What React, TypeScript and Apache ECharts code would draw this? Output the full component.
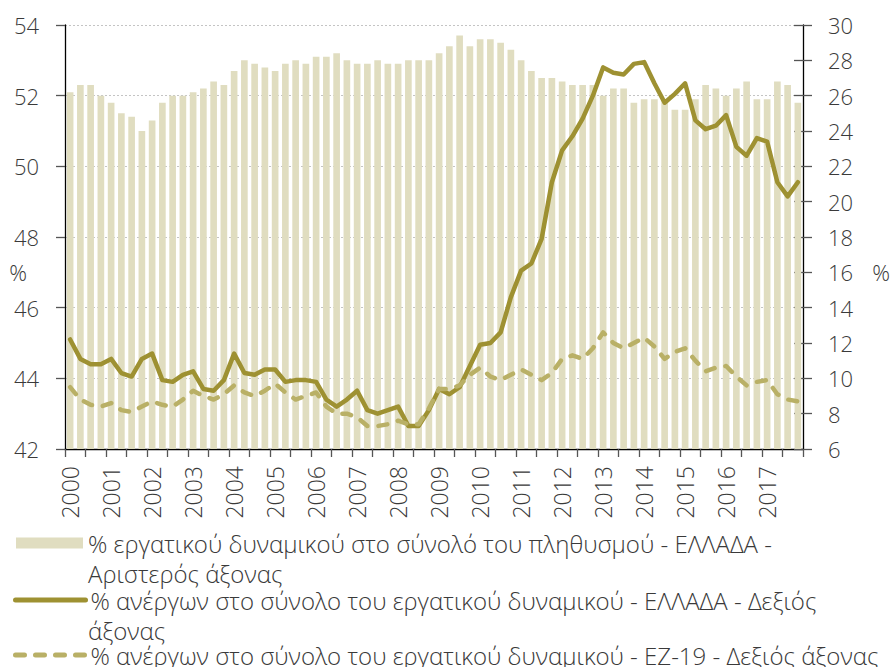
import React, { useEffect, useRef } from "react";
import * as echarts from "echarts";

// ---- data ----
const years = [
  "2000", "2001", "2002", "2003", "2004", "2005", "2006", "2007", "2008",
  "2009", "2010", "2011", "2012", "2013", "2014", "2015", "2016", "2017",
];
const quarters = ["Q1", "Q2", "Q3", "Q4"];

// % labour force in total population - Greece (left axis)
const labourForceGR = [
  52.1, 52.3, 52.3, 52.0, 51.8, 51.5, 51.4, 51.0, 51.3, 51.8, 52.0, 52.0,
  52.1, 52.2, 52.4, 52.3, 52.7, 53.0, 52.9, 52.8, 52.7, 52.9, 53.0, 52.9,
  53.1, 53.1, 53.2, 53.0, 52.9, 52.9, 53.0, 52.9, 52.9, 53.0, 53.0, 53.0,
  53.2, 53.4, 53.7, 53.4, 53.6, 53.6, 53.5, 53.3, 53.0, 52.7, 52.5, 52.5,
  52.4, 52.3, 52.3, 52.3, 52.0, 52.2, 52.2, 51.8, 51.9, 51.9, 51.9, 51.6,
  51.6, 51.9, 52.3, 52.2, 52.0, 52.2, 52.4, 51.9, 51.9, 52.4, 52.3, 51.8,
];

// % unemployed in labour force - Greece (right axis)
const unemploymentGR = [
  12.2, 11.1, 10.8, 10.8, 11.1, 10.3, 10.1, 11.1, 11.4, 9.9, 9.8, 10.2,
  10.4, 9.4, 9.3, 9.9, 11.4, 10.3, 10.2, 10.5, 10.5, 9.8, 9.9, 9.9,
  9.8, 8.8, 8.4, 8.8, 9.3, 8.2, 8.0, 8.2, 8.4, 7.3, 7.3, 8.2,
  9.4, 9.1, 9.5, 10.7, 11.9, 12.0, 12.6, 14.6, 16.1, 16.5, 17.9, 21.1,
  22.9, 23.7, 24.7, 26.0, 27.6, 27.3, 27.2, 27.8, 27.9, 26.7, 25.6, 26.1,
  26.7, 24.6, 24.1, 24.3, 24.9, 23.1, 22.6, 23.6, 23.4, 21.1, 20.3, 21.1,
];

// % unemployed in labour force - EZ-19 (right axis)
const unemploymentEZ19 = [
  9.5, 8.8, 8.5, 8.4, 8.6, 8.2, 8.1, 8.4, 8.7, 8.5, 8.4, 8.8,
  9.3, 9.0, 8.8, 9.1, 9.6, 9.2, 9.0, 9.3, 9.7, 9.2, 8.8, 9.0,
  9.2, 8.4, 8.0, 8.0, 7.8, 7.3, 7.3, 7.4, 7.6, 7.4, 7.4, 8.3,
  9.4, 9.4, 9.6, 10.2, 10.6, 10.1, 9.9, 10.2, 10.5, 10.2, 9.9, 10.3,
  11.1, 11.3, 11.1, 11.7, 12.6, 12.0, 11.7, 12.0, 12.3, 11.8, 11.1, 11.5,
  11.7, 11.0, 10.4, 10.6, 10.7, 10.1, 9.6, 9.8, 9.9, 9.1, 8.8, 8.7,
];

const leftAxisRange = { min: 42, max: 54, interval: 2 };
const rightAxisRange = { min: 6, max: 30, interval: 2 };

const legendLines: string[][] = [
  ["% εργατικού δυναμικού στο σύνολό του πληθυσμού - ΕΛΛΑΔΑ -", "Αριστερός άξονας"],
  ["% ανέργων στο σύνολο του εργατικού δυναμικού - ΕΛΛΑΔΑ - Δεξιός", "άξονας"],
  ["% ανέργων στο σύνολο του εργατικού δυναμικού - ΕΖ-19 - Δεξιός άξονας"],
];
const seriesNames = legendLines.map((l) => l.join(" "));

const categories = years.flatMap((y) => quarters.map((q) => `${y} ${q}`));

// ---- style ----
const FONT = "'Open Sans', 'Noto Sans', sans-serif";
const TEXT = "#3a3a3a";
const BAR = "#e0ddc0";
const LINE_GR = "#9e9132";
const LINE_EZ = "#b9b066";
const LEG_FS = 24;
const LEG_LH = 22;
const LEG_ROWS = [542, 599, 654]; // icon/first-line centres
const LEG_SECOND = [573, 630]; // wrapped second lines

export default function App() {
  const ref = useRef<HTMLDivElement>(null);

  useEffect(() => {
    if (!ref.current) return;
    const chart = echarts.init(ref.current, undefined, { renderer: "svg" });

    const formatter = (name: string) => {
      const i = seriesNames.indexOf(name);
      return i >= 0 ? legendLines[i][0] : name;
    };
    const legendText = {
      fontFamily: FONT,
      fontWeight: 300,
      fontSize: LEG_FS,
      lineHeight: LEG_LH,
      color: TEXT,
    };
    const axisLabelStyle = {
      fontFamily: FONT,
      fontWeight: 300,
      fontSize: 22,
      color: TEXT,
    };

    const lineLegend = (i: number, color: string, dash: any) => ({
      orient: "vertical",
      left: 13,
      top: LEG_ROWS[i] - LEG_LH / 2,
      padding: 0,
      itemGap: 0,
      itemWidth: 70,
      itemHeight: 1,
      selectedMode: false,
      formatter,
      data: [{ name: seriesNames[i] }],
      itemStyle: { opacity: 0 },
      lineStyle: { color, width: 5, type: dash, cap: "round" },
      textStyle: legendText,
    });

    const secondLine = (i: number) => ({
      type: "text",
      x: 88,
      y: LEG_SECOND[i],
      style: {
        text: legendLines[i][1],
        align: "left",
        verticalAlign: "middle",
        fontFamily: FONT,
        fontWeight: 300,
        fontSize: LEG_FS,
        lineHeight: LEG_LH,
        fill: TEXT,
      },
    });

    const pct = (x: number) => ({
      type: "text",
      x,
      y: 272,
      style: {
        text: "%",
        align: "center",
        verticalAlign: "middle",
        fontFamily: FONT,
        fontWeight: 300,
        fontSize: 22,
        fill: TEXT,
      },
    });

    chart.setOption({
      animation: false,
      backgroundColor: "#ffffff",
      grid: { left: 65, right: 87, top: 25, bottom: 218, containLabel: false },
      legend: [
        {
          orient: "vertical",
          left: 16,
          top: LEG_ROWS[0] - LEG_LH / 2,
          padding: 0,
          itemGap: 0,
          itemWidth: 67,
          itemHeight: 11,
          selectedMode: false,
          formatter,
          data: [{ name: seriesNames[0], icon: "rect" }],
          textStyle: legendText,
        },
        lineLegend(1, LINE_GR, "solid"),
        lineLegend(2, LINE_EZ, [9, 11]),
      ],
      xAxis: {
        type: "category",
        data: categories,
        boundaryGap: true,
        axisLine: { show: true, lineStyle: { color: "#000", width: 1.3 } },
        axisTick: {
          show: true,
          interval: 1,
          length: 8,
          lineStyle: { color: "#555", width: 1.3 },
        },
        axisLabel: {
          interval: 3,
          rotate: 90,
          margin: 17,
          formatter: (v: string) => v.slice(0, 4),
          ...axisLabelStyle,
          fontSize: 23,
        },
        splitLine: { show: false },
      },
      yAxis: [
        {
          type: "value",
          position: "left",
          ...leftAxisRange,
          axisLine: { show: true, lineStyle: { color: "#000", width: 1.3 } },
          axisTick: { show: true, length: 9, lineStyle: { color: "#555", width: 1.3 } },
          axisLabel: { margin: 26, ...axisLabelStyle },
          splitLine: {
            show: true,
            lineStyle: { color: "#c4c4c4", width: 1, type: [2, 2] },
          },
        },
        {
          type: "value",
          position: "right",
          ...rightAxisRange,
          axisLine: { show: true, lineStyle: { color: "#000", width: 1.3 } },
          axisTick: { show: true, length: 9, lineStyle: { color: "#555", width: 1.3 } },
          axisLabel: { margin: 25, ...axisLabelStyle },
          splitLine: { show: false },
        },
        {
          type: "value",
          position: "right",
          ...rightAxisRange,
          axisLine: { show: false },
          axisTick: {
            show: true,
            inside: true,
            length: 9,
            lineStyle: { color: "#555", width: 1.3 },
          },
          axisLabel: { show: false },
          splitLine: { show: false },
        },
      ],
      graphic: [pct(18), pct(881), secondLine(0), secondLine(1)],
      series: [
        {
          name: seriesNames[0],
          type: "bar",
          yAxisIndex: 0,
          data: labourForceGR,
          barWidth: "65%",
          itemStyle: { color: BAR },
        },
        {
          name: seriesNames[1],
          type: "line",
          yAxisIndex: 1,
          data: unemploymentGR,
          symbol: "none",
          showSymbol: false,
          itemStyle: { color: LINE_GR },
          lineStyle: { color: LINE_GR, width: 4.5, join: "round", cap: "round" },
        },
        {
          name: seriesNames[2],
          type: "line",
          yAxisIndex: 1,
          data: unemploymentEZ19,
          symbol: "none",
          showSymbol: false,
          itemStyle: { color: LINE_EZ },
          lineStyle: {
            color: LINE_EZ,
            width: 4.5,
            type: [9, 11],
            cap: "round",
            join: "round",
          },
        },
      ],
    });

    return () => chart.dispose();
  }, []);

  return (
    <div
      ref={ref}
      style={{ position: "fixed", left: 0, top: 0, width: 890, height: 667 }}
    />
  );
}
